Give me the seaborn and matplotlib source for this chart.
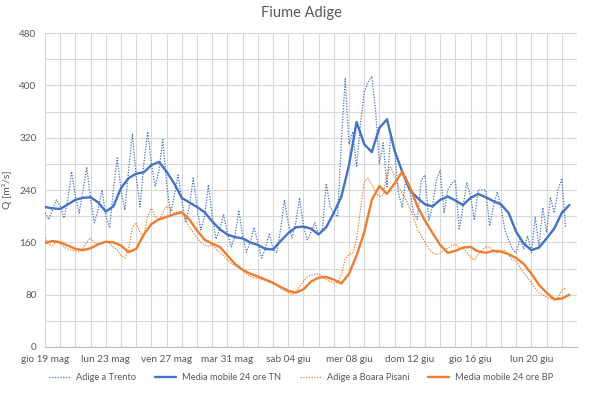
import matplotlib
matplotlib.use("Agg")
import matplotlib.pyplot as plt
import matplotlib.dates as mdates
from matplotlib.ticker import MultipleLocator
import seaborn as sns
import pandas as pd

# ---------------- data ----------------
title = "Fiume Adige"
y_label = "Q [m³/s]"
start = "2022-05-19 00:00"

# Adige a Trento, 6-hourly readings (m3/s)
trento = [
    205, 195, 210, 225,  215, 197, 225, 268,  230, 205, 240, 275,  225, 190, 210, 240,
    200, 182, 240, 289,  240, 209, 270, 326,  260, 214, 280, 329,  280, 245, 270, 317,
    250, 205, 230, 263,  225, 190, 215, 258,  215, 179, 200, 248,  200, 165, 180, 202,
    175, 153, 170, 209,  170, 145, 160, 183,  160, 136, 150, 174,  150, 144, 180, 225,
    190, 167, 190, 228,  185, 164, 175, 190,  172, 180, 250, 215,  205, 199, 317, 410,
    310, 329, 275, 340,  390, 405, 414, 360,  280, 312, 245, 327,  300, 235, 214, 260,
    240, 205, 195, 255,  263, 194, 215, 255,  270, 205, 240, 250,  255, 179, 215, 251,
    230, 194, 240, 240,  240, 185, 215, 237,  215, 179, 164, 150,  144, 165, 150, 170,
    144, 199, 153, 213,  175, 229, 205, 240,  258, 182,
]

# Media mobile 24 ore TN, 12-hourly readings
trento_ma = [
    214, 212, 211, 218, 225, 228, 229, 221, 207, 215,
    243, 258, 265, 267, 278, 283, 268, 250, 228, 221,
    214, 206, 192, 180, 172, 168, 166, 160, 156, 150,
    149, 162, 174, 183, 184, 181, 172, 183, 205, 230,
    278, 344, 310, 298, 335, 348, 300, 268, 240, 228,
    218, 215, 225, 230, 224, 217, 228, 234, 229, 223,
    218, 205, 176, 158, 148, 152, 166, 181, 205, 217,
]

# Adige a Boara Pisani, 6-hourly readings
boara = [
    167, 157, 155, 161,  158, 153, 150, 148,  147, 146, 151, 160,  167, 160, 156, 160,
    161, 158, 153, 148,  140, 136, 150, 183,  190, 175, 168, 200,  212, 200, 194, 205,
    215, 212, 205, 207,  206, 195, 183, 175,  167, 160, 156, 154,  156, 150, 144, 140,
    133, 128, 124, 121,  117, 112, 107, 106,  105, 103, 102, 100,   98,  94,  89,  86,
     83,  80,  84,  92,  100, 107, 110, 111,  112, 108, 103, 100,   98,  99, 110, 135,
    141, 144, 165, 210,  252, 258, 248, 237,  230, 232, 266, 275,  262, 245, 235, 225,
    212, 199, 180, 170,  160, 150, 144, 141,  143, 148, 151, 155,  157, 152, 151, 145,
    137, 133, 142, 148,  153, 153, 147, 144,  146, 148, 140, 133,  131, 122, 113, 106,
     98,  90,  83,  80,   76,  74,  72,  75,   87,  90,
]

# Media mobile 24 ore BP, 12-hourly readings
boara_ma = [
    159, 162, 160, 155, 150, 148, 151, 157, 161, 160,
    155, 145, 150, 172, 188, 195, 199, 203, 206, 195,
    178, 164, 158, 153, 140, 127, 118, 112, 108, 103,
     98,  92,  86,  83,  88, 100, 106, 107, 103,  97,
    112, 140, 175, 225, 246, 234, 250, 268, 245, 215,
    193, 174, 156, 144, 147, 152, 153, 146, 144, 147,
    146, 142, 136, 127, 112,  95,  83,  73,  74,  80,
]

series_names = ["Adige a Trento", "Media mobile 24 ore TN",
                "Adige a Boara Pisani", "Media mobile 24 ore BP"]
tick_labels = ["gio 19 mag", "lun 23 mag", "ven 27 mag", "mar 31 mag",
               "sab 04 giu", "mer 08 giu", "dom 12 giu", "gio 16 giu", "lun 20 giu"]
y_ticks = [0, 80, 160, 240, 320, 400, 480]

# ---------------- build frames ----------------
t_raw_tn = pd.date_range(start, periods=len(trento), freq="6h")
t_ma_tn = pd.date_range(start, periods=len(trento_ma), freq="12h")
t_raw_bp = pd.date_range(start, periods=len(boara), freq="6h")
t_ma_bp = pd.date_range(start, periods=len(boara_ma), freq="12h")

df_tn = pd.DataFrame({"t": t_raw_tn, "q": trento})
df_tn_ma = pd.DataFrame({"t": t_ma_tn, "q": trento_ma})
df_bp = pd.DataFrame({"t": t_raw_bp, "q": boara})
df_bp_ma = pd.DataFrame({"t": t_ma_bp, "q": boara_ma})

# ---------------- style ----------------
sns.set_style("white")
plt.rcParams["font.family"] = ["Lato", "DejaVu Sans"]
txt = "#595959"
grid_c = "#D9D9D9"
blue = "#4472C4"
orange = "#ED7D31"

fig = plt.figure(figsize=(6.02, 3.94), dpi=100)
ax = fig.add_axes([45 / 602, 1 - 347 / 394, (577 - 45) / 602, (347 - 33) / 394])

dot = (0, (1, 1.2))
sns.lineplot(data=df_tn, x="t", y="q", ax=ax, color=blue, lw=0.9,
             linestyle=dot, label=series_names[0])
sns.lineplot(data=df_tn_ma, x="t", y="q", ax=ax, color=blue, lw=1.7,
             label=series_names[1])
sns.lineplot(data=df_bp, x="t", y="q", ax=ax, color=orange, lw=0.9,
             linestyle=dot, label=series_names[2])
sns.lineplot(data=df_bp_ma, x="t", y="q", ax=ax, color=orange, lw=1.7,
             label=series_names[3])

x0 = pd.Timestamp(start)
ax.set_xlim(x0, x0 + pd.Timedelta(days=35))
ax.set_ylim(0, 480)

tick_pos = pd.date_range(start, periods=len(tick_labels), freq="4D")
ax.set_xticks(tick_pos)
ax.set_xticklabels(tick_labels)
ax.xaxis.set_minor_locator(mdates.DayLocator())
ax.set_yticks(y_ticks)
ax.yaxis.set_minor_locator(MultipleLocator(40))

ax.grid(True, which="both", color=grid_c, lw=0.8)
ax.set_axisbelow(True)
for s in ax.spines.values():
    s.set_visible(False)
ax.spines["bottom"].set_visible(True)
ax.spines["bottom"].set_color("#BFBFBF")
ax.tick_params(which="both", length=0, colors=txt, labelsize=7.2, pad=6)
ax.tick_params(axis="y", pad=6)
ax.set_xlabel("")
ax.set_ylabel(y_label, color=txt, fontsize=7.5)
ax.yaxis.set_label_coords((12 - 45) / 532, 0.5)

fig.text(0.5, 1 - 13 / 394, title, ha="center", va="center",
         fontsize=10.5, color=txt)

handles, labels = ax.get_legend_handles_labels()
ax.legend_.remove()
fig.legend(handles, labels, loc="center", bbox_to_anchor=(0.5, 1 - 378 / 394),
           ncol=4, frameon=False, fontsize=6.7, labelcolor=txt,
           handlelength=2.3, columnspacing=2.0, handletextpad=0.6)

fig.savefig("out.png", dpi=100)
